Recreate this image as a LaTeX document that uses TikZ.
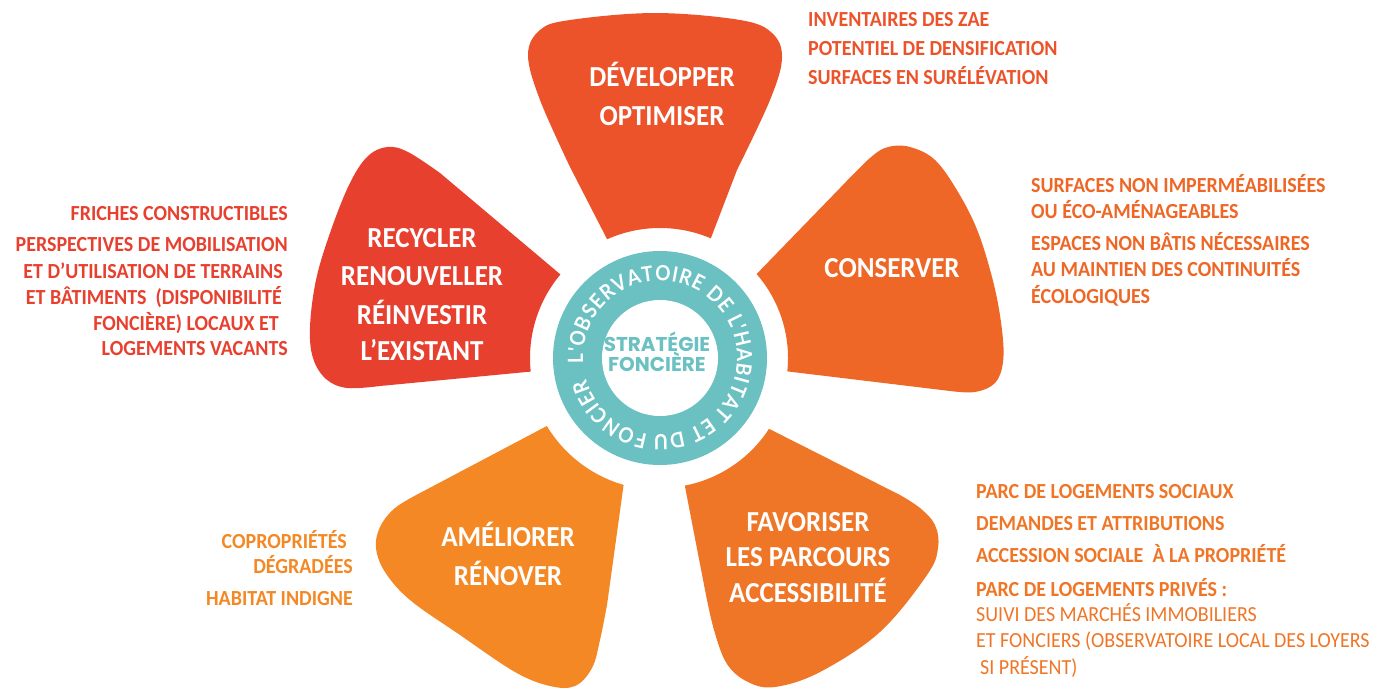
\documentclass[tikz,border=0pt]{standalone}
\usepackage{fontspec}
\usetikzlibrary{calc,decorations.text}
\newfontfamily\lab{Carlito}[FakeStretch=0.93]
\newfontfamily\pop{Poppins}
\newfontfamily\ringf{Lato}[FakeStretch=0.9]
\definecolor{cA}{HTML}{EC532B}
\definecolor{cB}{HTML}{EE6726}
\definecolor{cC}{HTML}{F07627}
\definecolor{cD}{HTML}{F48825}
\definecolor{cE}{HTML}{E8402F}
\definecolor{teal}{HTML}{6BC1C2}
\tikzset{
  petaltext/.style={text=white, font=\lab\bfseries\fontsize{29}{29}\selectfont, anchor=base, inner sep=0pt},
  listl/.style={font=\lab\bfseries\fontsize{21.5}{22}\selectfont, anchor=base west, inner sep=0pt},
  listr/.style={font=\lab\bfseries\fontsize{21.5}{22}\selectfont, anchor=base east, inner sep=0pt},
  listlight/.style={font=\lab\fontsize{21.5}{22}\selectfont, anchor=base west, inner sep=0pt},
  centertext/.style={text=teal, font=\pop\bfseries\fontsize{20}{20}\selectfont, anchor=base, inner sep=0pt},
}
\begin{document}
\begin{tikzpicture}[x=1pt,y=1pt]
\useasboundingbox (0,0) rectangle (1396,-688);
\fill[white] (0,0) rectangle (1396,-688);
\coordinate (C) at (660,-358);

% top petal
\fill[cA] ($(C)+(114:130)$) -- plot[smooth,tension=0.6] coordinates {(570,-167) (540,-100) (528,-55) (540,-30) (570,-20) (655,-13) (740,-20) (772,-33) (782,-58) (770,-100) (737,-170)} -- ($(C)+(67:130)$) arc[start angle=67,end angle=114,radius=130] -- cycle;
% right petal
\fill[cB] ($(C)+(41:128)$) -- plot[smooth,tension=0.6] coordinates {(840,-188) (870,-158) (888,-147) (910,-147) (935,-160) (958,-192) (978,-232) (994,-285) (1002,-330) (1003,-362) (995,-383) (975,-392) (950,-391)} -- ($(C)+(-6:128)$) arc[start angle=-6,end angle=41,radius=128] -- cycle;
% bottom right petal
\fill[cC] ($(C)+(-33:130)$) -- plot[smooth,tension=0.6] coordinates {(900,-495) (920,-508) (935,-525) (938,-548) (927,-575) (880,-632) (820,-672) (775,-687) (748,-682) (727,-664) (714,-630) (705,-590)} -- ($(C)+(-79:130)$) arc[start angle=-79,end angle=-33,radius=130] -- cycle;
% bottom left petal
\fill[cD] ($(C)+(211:132)$) -- plot[smooth,tension=0.6] coordinates {(420,-493) (395,-508) (380,-527) (376,-548) (385,-572) (410,-600) (460,-635) (515,-672) (550,-686) (575,-686) (592,-668) (600,-640) (607,-605)} -- ($(C)+(254:132)$) arc[start angle=254,end angle=211,radius=132] -- cycle;
% left petal
\fill[cE] ($(C)+(140:130)$) -- plot[smooth,tension=0.6] coordinates {(440,-173) (408,-152) (387,-147) (367,-157) (349,-185) (330,-233) (316,-280) (310,-327) (313,-358) (326,-379) (347,-388) (380,-386)} -- ($(C)+(186:130)$) arc[start angle=186,end angle=140,radius=130] -- cycle;

% ring
\fill[teal] (C) circle[radius=107];
\fill[white] (C) circle[radius=58];
\path[decorate, decoration={text along path, text color=white, text align=fit to path,
  text={|\ringf\bfseries\fontsize{21}{21}\selectfont|L'OBSERVATOIRE DE L'HABITAT ET DU FONCIER}}]
  ($(C)+(184:77)$) arc[start angle=184,end angle=-164,radius=77];
\node[centertext] (s1) at (657,-351) {STRATÉGIE};
\node[centertext] (s2) at (657,-371) {FONCIÈRE};

% petal labels
\node[petaltext] (p1a) at (662,-86) {DÉVELOPPER};
\node[petaltext] (p1b) at (662,-125) {OPTIMISER};
\node[petaltext] (p2a) at (892,-277) {CONSERVER};
\node[petaltext] (p3a) at (808,-531) {FAVORISER};
\node[petaltext] (p3b) at (808,-566) {LES PARCOURS};
\node[petaltext] (p3c) at (808,-602) {ACCESSIBILITÉ};
\node[petaltext] (p4a) at (508,-546) {AMÉLIORER};
\node[petaltext] (p4b) at (508,-585) {RÉNOVER};
\node[petaltext] (p5a) at (422,-247) {RECYCLER};
\node[petaltext] (p5b) at (422,-285) {RENOUVELLER};
\node[petaltext] (p5c) at (422,-324) {RÉINVESTIR};
\node[petaltext] (p5d) at (422,-360) {L’EXISTANT};

% top right list
\node[listl,text=cA] (t1) at (808,-27) {INVENTAIRES DES ZAE};
\node[listl,text=cA] (t2) at (808,-55.5) {POTENTIEL DE DENSIFICATION};
\node[listl,text=cA] (t3) at (808,-84) {SURFACES EN SURÉLÉVATION};
% right list
\node[listl,text=cB] (r1) at (1031,-192) {SURFACES NON IMPERMÉABILISÉES};
\node[listl,text=cB] (r2) at (1031,-218.5) {OU ÉCO-AMÉNAGEABLES};
\node[listl,text=cB] (r3) at (1031,-250) {ESPACES NON BÂTIS NÉCESSAIRES};
\node[listl,text=cB] (r4) at (1031,-276.5) {AU MAINTIEN DES CONTINUITÉS};
\node[listl,text=cB] (r5) at (1031,-303) {ÉCOLOGIQUES};
% left list
\node[listr,text=cE] (l1) at (288,-220) {FRICHES CONSTRUCTIBLES};
\node[listr,text=cE] (l2) at (288,-251.5) {PERSPECTIVES DE MOBILISATION};
\node[listr,text=cE] (l3) at (283,-278) {ET D’UTILISATION DE TERRAINS};
\node[listr,text=cE] (l4) at (282,-304.5) {ET BÂTIMENTS~ (DISPONIBILITÉ};
\node[listr,text=cE] (l5) at (279,-330) {FONCIÈRE) LOCAUX ET};
\node[listr,text=cE] (l6) at (288,-355) {LOGEMENTS VACANTS};
% bottom left list
\node[listr,text=cD] (b1) at (347,-548) {COPROPRIÉTÉS};
\node[listr,text=cD] (b2) at (353,-573) {DÉGRADÉES};
\node[listr,text=cD] (b3) at (353,-605) {HABITAT INDIGNE};
% bottom right list
\node[listl,text=cC] (d1) at (976,-498) {PARC DE LOGEMENTS SOCIAUX};
\node[listl,text=cC] (d2) at (976,-530) {DEMANDES ET ATTRIBUTIONS};
\node[listl,text=cC] (d3) at (976,-562.5) {ACCESSION SOCIALE~ À LA PROPRIÉTÉ};
\node[listl,text=cC] (d4) at (976,-596) {PARC DE LOGEMENTS PRIVÉS :};
\node[listlight,text=cC] (d5) at (976,-621.5) {SUIVI DES MARCHÉS IMMOBILIERS};
\node[listlight,text=cC] (d6) at (976,-647.5) {ET FONCIERS (OBSERVATOIRE LOCAL DES LOYERS};
\node[listlight,text=cC] (d7) at (980,-674) {SI PRÉSENT)};
\end{tikzpicture}
\end{document}
